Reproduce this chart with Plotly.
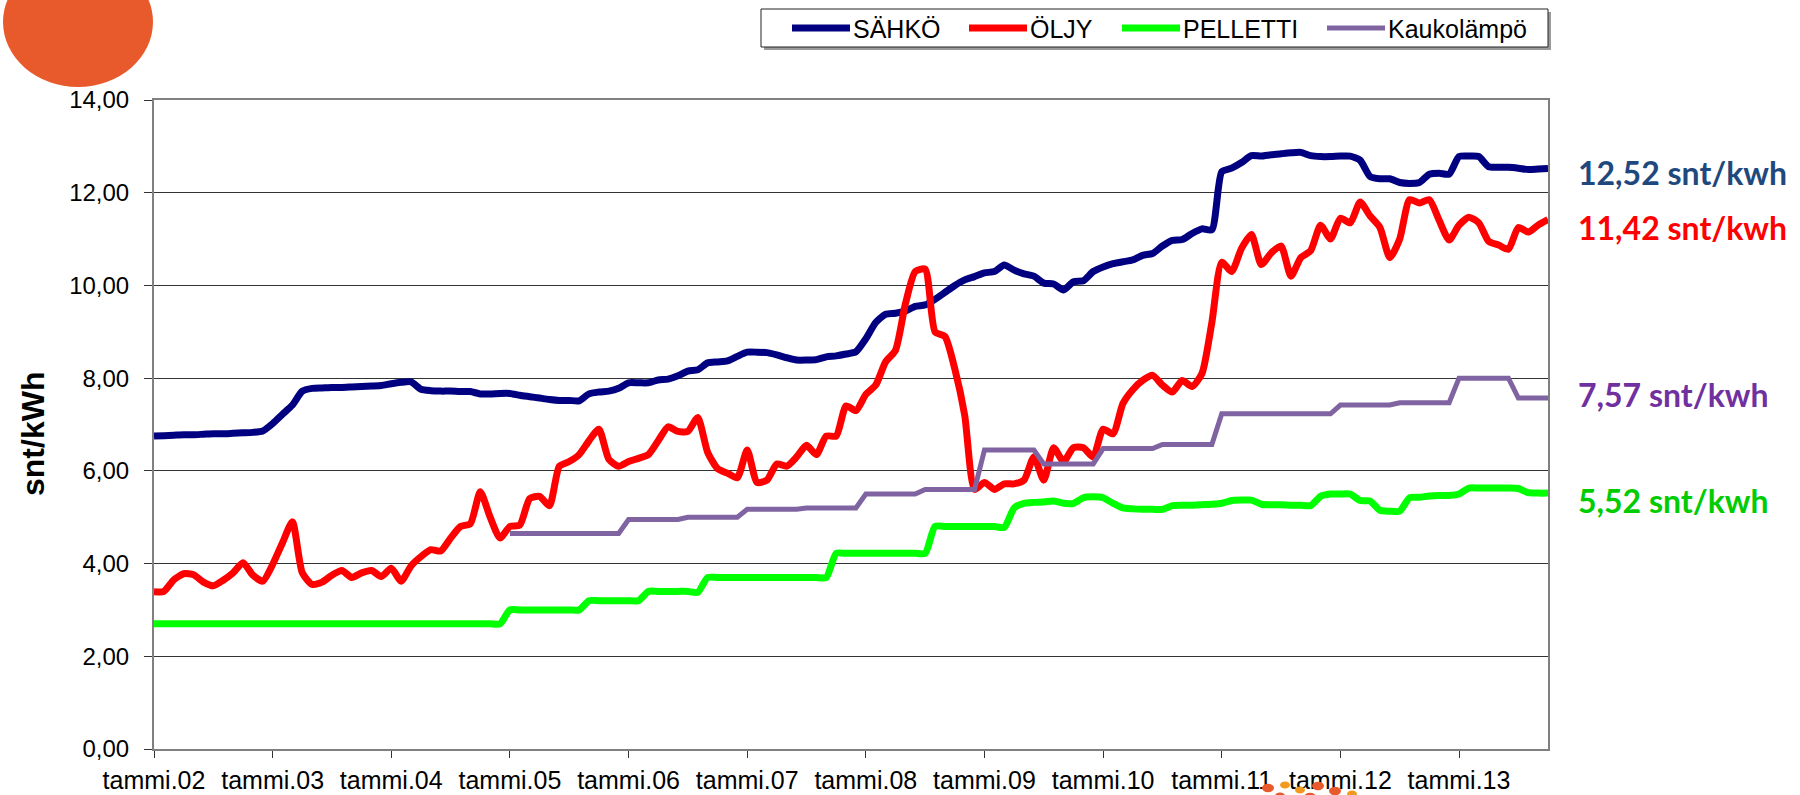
import plotly.graph_objects as go

# ---------------- data ----------------
tick_labels = ['tammi.02', 'tammi.03', 'tammi.04', 'tammi.05', 'tammi.06', 'tammi.07',
               'tammi.08', 'tammi.09', 'tammi.10', 'tammi.11', 'tammi.12', 'tammi.13']
tick_months = [0, 12, 24, 36, 48, 60, 72, 84, 96, 108, 120, 132]

sahko = [6.75, 6.76, 6.77, 6.78, 6.78, 6.79, 6.80, 6.80, 6.81, 6.82, 6.83, 6.86,
         7.02, 7.22, 7.42, 7.72, 7.78, 7.79, 7.80, 7.80, 7.81, 7.82, 7.83, 7.84,
         7.88, 7.91, 7.92, 7.76, 7.73, 7.72, 7.72, 7.71, 7.71, 7.66, 7.66, 7.67,
         7.67, 7.63, 7.60, 7.57, 7.54, 7.52, 7.52, 7.51, 7.66, 7.70, 7.72, 7.78,
         7.90, 7.90, 7.90, 7.96, 7.98, 8.05, 8.15, 8.18, 8.33, 8.35, 8.37, 8.47,
         8.56, 8.56, 8.55, 8.50, 8.44, 8.39, 8.39, 8.40, 8.46, 8.48, 8.52, 8.57,
         8.85, 9.20, 9.38, 9.40, 9.45, 9.55, 9.58, 9.70, 9.85, 10.00, 10.12, 10.19,
         10.27, 10.30, 10.44, 10.33, 10.25, 10.20, 10.05, 10.03, 9.90, 10.08, 10.10, 10.30,
         10.40, 10.47, 10.51, 10.55, 10.65, 10.69, 10.85, 10.97, 10.99, 11.12, 11.22, 11.20,
         12.45, 12.53, 12.65, 12.80, 12.79, 12.82, 12.84, 12.86, 12.87, 12.80, 12.78, 12.78,
         12.79, 12.79, 12.70, 12.35, 12.30, 12.30, 12.22, 12.20, 12.22, 12.40, 12.42, 12.40,
         12.78, 12.79, 12.78, 12.56, 12.55, 12.55, 12.53, 12.50, 12.51, 12.52]

oljy = [3.39, 3.40, 3.65, 3.78, 3.76, 3.60, 3.52, 3.64, 3.80, 4.02, 3.75, 3.62,
        3.98, 4.45, 4.90, 3.80, 3.55, 3.60, 3.75, 3.85, 3.70, 3.80, 3.85, 3.72,
        3.90, 3.62, 3.95, 4.15, 4.30, 4.27, 4.55, 4.80, 4.86, 5.55, 5.00, 4.55,
        4.80, 4.83, 5.40, 5.45, 5.25, 6.10, 6.20, 6.35, 6.65, 6.90, 6.25, 6.10,
        6.20, 6.27, 6.35, 6.65, 6.95, 6.85, 6.85, 7.15, 6.40, 6.05, 5.95, 5.85,
        6.45, 5.75, 5.80, 6.15, 6.10, 6.30, 6.55, 6.35, 6.75, 6.75, 7.40, 7.30,
        7.65, 7.85, 8.35, 8.60, 9.60, 10.30, 10.35, 9.00, 8.90, 8.20, 7.20, 5.60,
        5.75, 5.60, 5.72, 5.72, 5.80, 6.30, 5.80, 6.50, 6.20, 6.50, 6.50, 6.30,
        6.90, 6.80, 7.45, 7.75, 7.95, 8.06, 7.85, 7.70, 7.95, 7.82, 8.10, 9.20,
        10.50, 10.30, 10.80, 11.10, 10.45, 10.70, 10.85, 10.20, 10.60, 10.75, 11.30, 11.00,
        11.45, 11.35, 11.80, 11.50, 11.25, 10.60, 11.00, 11.85, 11.78, 11.85, 11.40, 10.98,
        11.30, 11.47, 11.35, 10.95, 10.87, 10.78, 11.25, 11.15, 11.30, 11.42]

pelletti = [2.70, 2.70, 2.70, 2.70, 2.70, 2.70, 2.70, 2.70, 2.70, 2.70, 2.70, 2.70,
            2.70, 2.70, 2.70, 2.70, 2.70, 2.70, 2.70, 2.70, 2.70, 2.70, 2.70, 2.70,
            2.70, 2.70, 2.70, 2.70, 2.70, 2.70, 2.70, 2.70, 2.70, 2.70, 2.70, 2.70,
            3.00, 3.00, 3.00, 3.00, 3.00, 3.00, 3.00, 3.00, 3.20, 3.20, 3.20, 3.20,
            3.20, 3.20, 3.40, 3.40, 3.40, 3.40, 3.40, 3.38, 3.70, 3.70, 3.70, 3.70,
            3.70, 3.70, 3.70, 3.70, 3.70, 3.70, 3.70, 3.70, 3.70, 4.22, 4.22, 4.22,
            4.22, 4.22, 4.22, 4.22, 4.22, 4.22, 4.22, 4.80, 4.80, 4.80, 4.80, 4.80,
            4.80, 4.80, 4.78, 5.20, 5.30, 5.32, 5.33, 5.35, 5.30, 5.30, 5.42, 5.44,
            5.42, 5.30, 5.20, 5.18, 5.17, 5.17, 5.17, 5.25, 5.26, 5.26, 5.27, 5.28,
            5.30, 5.36, 5.37, 5.37, 5.28, 5.27, 5.27, 5.26, 5.26, 5.25, 5.45, 5.50,
            5.50, 5.50, 5.36, 5.35, 5.15, 5.13, 5.13, 5.42, 5.43, 5.46, 5.47, 5.47,
            5.50, 5.63, 5.63, 5.63, 5.63, 5.63, 5.62, 5.53, 5.52, 5.52]

kauko_start_month = 36
kauko = [4.65, 4.65, 4.65, 4.65, 4.65, 4.65, 4.65, 4.65, 4.65, 4.65, 4.65, 4.65,
         4.95, 4.95, 4.95, 4.95, 4.95, 4.95, 5.00, 5.00, 5.00, 5.00, 5.00, 5.00,
         5.17, 5.17, 5.17, 5.17, 5.17, 5.17, 5.20, 5.20, 5.20, 5.20, 5.20, 5.20,
         5.50, 5.50, 5.50, 5.50, 5.50, 5.50, 5.60, 5.60, 5.60, 5.60, 5.60, 5.60,
         6.45, 6.45, 6.45, 6.45, 6.45, 6.45, 6.15, 6.15, 6.15, 6.15, 6.15, 6.15,
         6.48, 6.48, 6.48, 6.48, 6.48, 6.48, 6.57, 6.57, 6.57, 6.57, 6.57, 6.57,
         7.23, 7.23, 7.23, 7.23, 7.23, 7.23, 7.23, 7.23, 7.23, 7.23, 7.23, 7.23,
         7.42, 7.42, 7.42, 7.42, 7.42, 7.42, 7.47, 7.47, 7.47, 7.47, 7.47, 7.47,
         8.00, 8.00, 8.00, 8.00, 8.00, 8.00, 7.57, 7.57, 7.57, 7.57]

series_names = ['SÄHKÖ', 'ÖLJY', 'PELLETTI', 'Kaukolämpö']
series_colors = ['#000080', '#FF0000', '#00FF00', '#8064A2']
y_ticks = [0, 2, 4, 6, 8, 10, 12, 14]

# ---------------- figure ----------------
W, H = 1800, 795
L, R, T, B = 154, 252, 100, 46
pw, ph = W - L - R, H - T - B
def px_x(p):
    return (p - L) / pw
def px_y(p):
    return (H - B - p) / ph

FONT = 'Liberation Sans, Arial, sans-serif'

fig = go.Figure()
fig.add_trace(go.Scatter(x=list(range(len(sahko))), y=sahko, mode='lines', name=series_names[0],
                         line=dict(color=series_colors[0], width=7, shape='spline', smoothing=0.6)))
fig.add_trace(go.Scatter(x=list(range(len(oljy))), y=oljy, mode='lines', name=series_names[1],
                         line=dict(color=series_colors[1], width=7, shape='spline', smoothing=0.6)))
fig.add_trace(go.Scatter(x=list(range(len(pelletti))), y=pelletti, mode='lines', name=series_names[2],
                         line=dict(color=series_colors[2], width=7, shape='spline', smoothing=0.6)))
fig.add_trace(go.Scatter(x=[kauko_start_month + i for i in range(len(kauko))], y=kauko, mode='lines',
                         name=series_names[3], line=dict(color=series_colors[3], width=5)))

# end-value labels
end_labels = [
    (sahko[-1], '#1F497D', 12.43),
    (oljy[-1], '#FF0000', 11.24),
    (kauko[-1], '#7030A0', 7.64),
    (pelletti[-1], '#00CC00', 5.37),
]
for val, col, ypos in end_labels:
    fig.add_annotation(x=px_x(1576), y=ypos, xref='paper', yref='y', xanchor='left', yanchor='middle',
                       text=('%.2f' % val).replace('.', ',') + ' snt/kwh', showarrow=False,
                       font=dict(family='Lato, Open Sans, sans-serif', size=32, color=col, weight='bold'))

# y title
fig.add_annotation(x=px_x(33), y=px_y(434), xref='paper', yref='paper', text='<b>snt/kWh</b>',
                   textangle=-90, showarrow=False, xanchor='center', yanchor='middle',
                   font=dict(family=FONT, size=32, color='black'))

# legend box (drawn to match the original's long line samples)
lg_x0, lg_x1, lg_y0, lg_y1 = 761, 1548, 9, 47
lg_mid = (lg_y0 + lg_y1) / 2
fig.add_shape(type='rect', xref='paper', yref='paper', x0=px_x(lg_x0 + 3), x1=px_x(lg_x1 + 3),
              y0=px_y(lg_y1 + 3), y1=px_y(lg_y0 + 3), fillcolor='#9a9a9a', line=dict(width=0))
fig.add_shape(type='rect', xref='paper', yref='paper', x0=px_x(lg_x0), x1=px_x(lg_x1),
              y0=px_y(lg_y1), y1=px_y(lg_y0), fillcolor='white', line=dict(color='#222222', width=1))
legend_starts = [792, 969, 1122, 1327]
legend_widths = [7, 7, 7, 5]
for name, col, xs, lw in zip(series_names, series_colors, legend_starts, legend_widths):
    fig.add_shape(type='line', xref='paper', yref='paper', x0=px_x(xs), x1=px_x(xs + 58),
                  y0=px_y(lg_mid), y1=px_y(lg_mid), line=dict(color=col, width=lw))
    fig.add_annotation(x=px_x(xs + 59), y=px_y(lg_mid + 1), xref='paper', yref='paper', text=name,
                       showarrow=False, xanchor='left', yanchor='middle',
                       font=dict(family=FONT, size=25, color='black'))

# decorative orange blob (top-left) and dots (bottom)
fig.add_shape(type='circle', xref='paper', yref='paper', x0=px_x(3), x1=px_x(153), y0=px_y(87), y1=px_y(-43),
              fillcolor='#E85A2B', line=dict(width=0), layer='below')
for cx, cy, r, c in [(1268, 788, 6, '#E85A2B'), (1285, 785, 5, '#F29A1F'), (1300, 790, 5, '#F29A1F'),
                     (1318, 786, 6, '#E85A2B'), (1335, 791, 6, '#E85A2B'), (1352, 794, 5, '#F29A1F'),
                     (1280, 796, 5, '#E85A2B'), (1310, 797, 6, '#E85A2B')]:
    fig.add_shape(type='circle', xref='paper', yref='paper', x0=px_x(cx - r), x1=px_x(cx + r),
                  y0=px_y(cy + r * 0.7), y1=px_y(cy - r * 0.7), fillcolor=c, line=dict(width=0))

fig.update_layout(
    width=W, height=H,
    margin=dict(l=L, r=R, t=T, b=B, autoexpand=False),
    paper_bgcolor='white', plot_bgcolor='white',
    separators=',.',
    font=dict(family=FONT, color='black'),
    showlegend=False,
    xaxis=dict(range=[0, len(sahko) - 1], tickvals=tick_months, ticktext=tick_labels,
               automargin=False,
               showgrid=False, zeroline=False, showline=True, linecolor='#808080', linewidth=2,
               mirror=True, ticks='outside', ticklen=7, tickcolor='#333333', tickwidth=1,
               tickfont=dict(family=FONT, size=25, color='black'), ticklabelstandoff=1),
    yaxis=dict(range=[0, 14], tickvals=y_ticks, tickformat='.2f',
               automargin=False,
               showgrid=True, gridcolor='#333333', gridwidth=1, zeroline=False,
               showline=True, linecolor='#808080', linewidth=2, mirror=True,
               ticks='outside', ticklen=8, tickcolor='#333333', tickwidth=1,
               tickfont=dict(family=FONT, size=24, color='black'), ticklabelstandoff=10),
)

fig.write_html('out.html', config={'displayModeBar': False},
               post_script="document.body.style.margin='0';document.body.style.overflow='hidden';")
